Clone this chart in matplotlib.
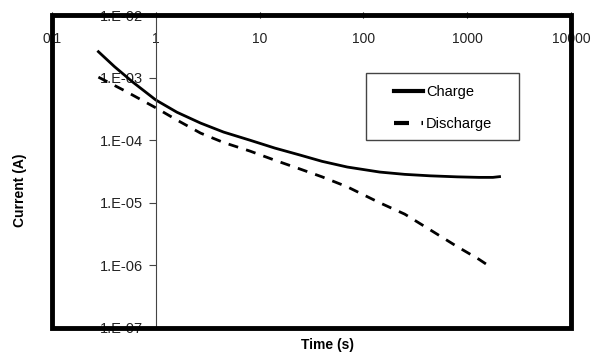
import matplotlib
matplotlib.use("Agg")
import matplotlib.pyplot as plt
from matplotlib.patches import Rectangle
from matplotlib.ticker import FixedLocator, FuncFormatter, NullLocator

plt.rcParams['font.family'] = ['Liberation Sans', 'DejaVu Sans']

# values (time in s, current in A)
charge_t = [0.28, 0.4, 0.6, 1.0, 1.6, 2.7, 4.5, 8.1, 14, 24.5, 40, 70, 144, 250, 440, 800, 1300, 1770, 2050]
charge_i = [2.6e-3, 1.5e-3, 8.5e-4, 4.4e-4, 2.8e-4, 1.88e-4, 1.35e-4, 1.0e-4, 7.5e-5, 5.8e-5, 4.6e-5,
            3.73e-5, 3.1e-5, 2.85e-5, 2.7e-5, 2.6e-5, 2.55e-5, 2.55e-5, 2.62e-5]
discharge_t = [0.28, 0.5, 1.0, 1.6, 2.7, 4.5, 8.1, 14, 24.5, 40, 70, 144, 250, 440, 800, 1300, 1700]
discharge_i = [1.02e-3, 6.2e-4, 3.3e-4, 2.1e-4, 1.3e-4, 9.2e-5, 6.7e-5, 4.8e-5, 3.47e-5, 2.6e-5,
               1.8e-5, 1.0e-5, 6.6e-6, 3.7e-6, 2.0e-6, 1.25e-6, 9.3e-7]

x_ticks = [0.1, 1, 10, 100, 1000, 10000]
x_labels = ["0.1", "1", "10", "100", "1000", "10000"]
y_ticks = [1e-7, 1e-6, 1e-5, 1e-4, 1e-3, 1e-2]
y_labels = ["1.E-07", "1.E-06", "1.E-05", "1.E-04", "1.E-03", "1.E-02"]

fig = plt.figure(figsize=(5.97, 3.59), dpi=100)
ax = fig.add_axes([0.0871, 0.0864, 0.8693, 0.8716])

ax.plot(charge_t, charge_i, color='black', lw=2.0, label='Charge')
ax.plot(discharge_t, discharge_i, color='black', lw=2.0, dashes=(3.6, 3), label='Discharge')

ax.set_xscale('log')
ax.set_yscale('log')
ax.set_xlim(0.1, 10000)
ax.set_ylim(1e-7, 1e-2)

# x axis along the top, labels inside the box
ax.xaxis.set_major_locator(FixedLocator(x_ticks))
ax.xaxis.set_major_formatter(FuncFormatter(lambda v, p: x_labels[x_ticks.index(min(x_ticks, key=lambda t: abs(t - v)))]))
ax.xaxis.set_minor_locator(NullLocator())
ax.tick_params(axis='x', top=True, bottom=False, labeltop=True, labelbottom=False,
               direction='inout', length=5, width=0.8, pad=-25, labelsize=10, labelcolor='#222222')

# y axis crosses at t = 1 s
ax.spines['left'].set_position(('data', 1))
ax.spines['left'].set_linewidth(0.8)
ax.spines['left'].set_color('#444444')
for s in ['top', 'right', 'bottom']:
    ax.spines[s].set_visible(False)
ax.yaxis.set_major_locator(FixedLocator(y_ticks))
ax.yaxis.set_major_formatter(FuncFormatter(lambda v, p: y_labels[min(range(6), key=lambda k: abs(y_ticks[k] / v - 1))]))
ax.yaxis.set_minor_locator(NullLocator())
ax.tick_params(axis='y', direction='out', length=5, width=0.8, pad=4, labelsize=10.5,
               labelcolor='#222222', color='#444444')

# heavy frame drawn over the tick labels
fig.add_artist(Rectangle((0, 0), 1, 1, transform=ax.transAxes, fill=False,
                         edgecolor='black', lw=3.5, zorder=5))

fig.text(0.548, 0.04, 'Time (s)', ha='center', va='center', fontsize=10, fontweight='bold')
fig.text(0.034, 0.47, 'Current (A)', ha='center', va='center', rotation=90,
         fontsize=10, fontweight='bold')

# legend entries without frame, box drawn separately (Excel pads it wider than tall)
leg = ax.legend(loc='upper left', bbox_to_anchor=(0.659, 0.776), fontsize=10.5,
                frameon=False, borderpad=0, handlelength=2.0, handletextpad=0.2,
                labelspacing=1.2, borderaxespad=0)
for line in leg.get_lines():
    line.set_linewidth(3.0)
ax.add_patch(Rectangle((0.605, 0.6006), 0.295, 0.2147, transform=ax.transAxes, fill=False,
                       edgecolor='#444444', lw=1.0, zorder=4))

fig.savefig('out.png', dpi=100)
